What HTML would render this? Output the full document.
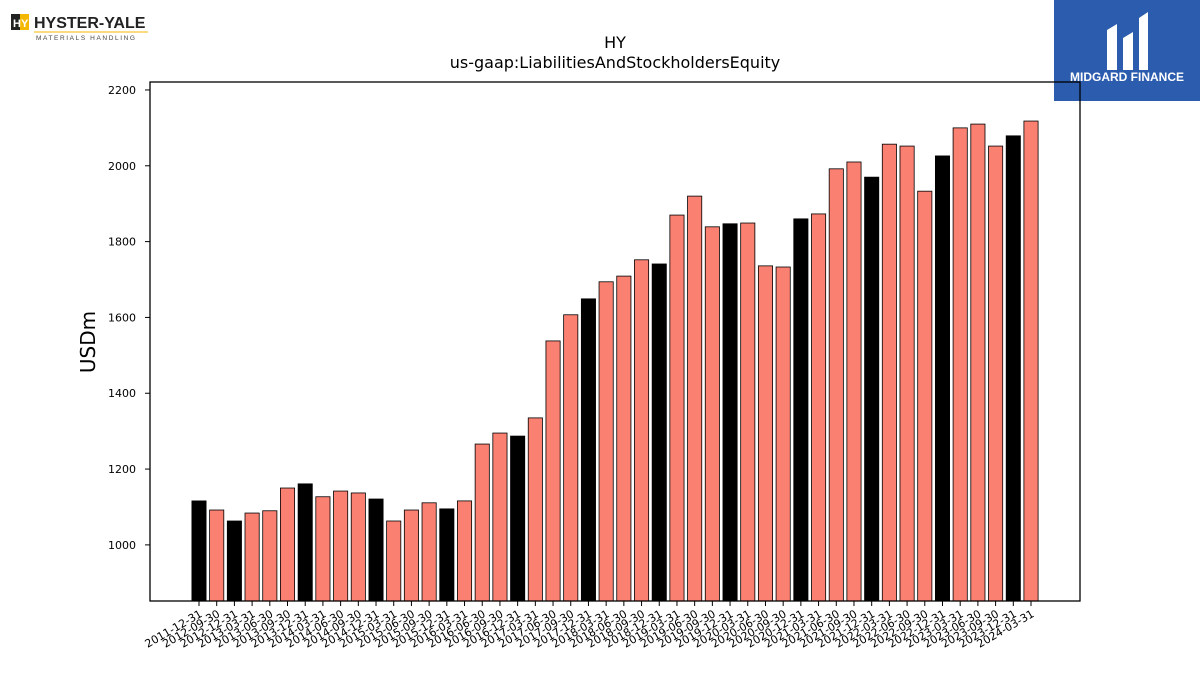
<!DOCTYPE html>
<html><head><meta charset="utf-8"><style>
body{margin:0;width:1200px;height:675px;background:#fff;overflow:hidden;font-family:"DejaVu Sans","Liberation Sans",sans-serif}
</style></head><body>
<svg width="1200" height="675" xmlns="http://www.w3.org/2000/svg">
<g font-family="Liberation Sans, sans-serif">
<rect x="11" y="14" width="9" height="16" fill="#222"/><rect x="20" y="14" width="9" height="16" fill="#f5b800"/>
<text x="13" y="27" font-size="11" font-weight="bold" fill="#fff">H</text><text x="21" y="27" font-size="11" font-weight="bold" fill="#fff">Y</text>
<text x="34" y="28" font-size="16" font-weight="bold" fill="#222">HYSTER-YALE</text>
<line x1="34" y1="32" x2="148" y2="32" stroke="#f5b800" stroke-width="1"/>
<text x="36" y="40" font-size="6.5" letter-spacing="1.6" fill="#444">MATERIALS HANDLING</text>
</g>
<g font-family="Liberation Sans, sans-serif">
<rect x="1054" y="0" width="146" height="101" fill="#2b5cad"/>
<path d="M1107 30 L1117 24 L1117 70 L1107 70 Z M1123 38 L1133 32 L1133 70 L1123 70 Z M1139 18 L1148 12 L1148 70 L1139 70 Z" fill="#fff"/>
<text x="1127" y="81" font-size="12" font-weight="bold" fill="#fff" text-anchor="middle">MIDGARD FINANCE</text>
</g>
<text x="615" y="48" font-size="16" text-anchor="middle">HY</text>
<text x="615" y="68" font-size="16" text-anchor="middle">us-gaap:LiabilitiesAndStockholdersEquity</text>
<text transform="translate(95,342) rotate(-90)" font-size="20" text-anchor="middle">USDm</text>
<g id="plot"></g>
<rect x="150" y="82" width="930" height="519" fill="none" stroke="#000" stroke-width="1.3"/>
</svg>
<script>
const categories=["2011-12-31","2012-09-30","2012-12-31","2013-03-31","2013-06-30","2013-09-30","2013-12-31","2014-03-31","2014-06-30","2014-09-30","2014-12-31","2015-03-31","2015-06-30","2015-09-30","2015-12-31","2016-03-31","2016-06-30","2016-09-30","2016-12-31","2017-03-31","2017-06-30","2017-09-30","2017-12-31","2018-03-31","2018-06-30","2018-09-30","2018-12-31","2019-03-31","2019-06-30","2019-09-30","2019-12-31","2020-03-31","2020-06-30","2020-09-30","2020-12-31","2021-03-31","2021-06-30","2021-09-30","2021-12-31","2022-03-31","2022-06-30","2022-09-30","2022-12-31","2023-03-31","2023-06-30","2023-09-30","2023-12-31","2024-03-31"];
const values=[1116,1092,1063,1084,1090,1150,1161,1127,1142,1137,1121,1063,1092,1111,1095,1116,1266,1295,1287,1335,1538,1607,1649,1694,1709,1752,1741,1870,1920,1839,1847,1849,1736,1733,1860,1873,1992,2010,1970,2057,2052,1933,2026,2100,2110,2052,2079,2118];
const yTicks=[1000,1200,1400,1600,1800,2000,2200];
const NS="http://www.w3.org/2000/svg";
const plotG=document.getElementById('plot');
const yMin=852,yMax=2221,plotTop=82,plotBot=601;
function ys(v){return plotBot-(v-yMin)/(yMax-yMin)*(plotBot-plotTop);}
function xs(i){return 199+i*(1031-199)/(categories.length-1);}
function mk(t,a){const e=document.createElementNS(NS,t);for(const k in a)e.setAttribute(k,a[k]);plotG.appendChild(e);return e;}
yTicks.forEach(v=>{
 const y=ys(v);
 const l=mk('line',{x1:145,x2:150,y1:y,y2:y,stroke:'#000'});
 
 
 const t=mk('text',{x:136,y:y+4,'font-size':11,'text-anchor':'end'});
 
 
 t.textContent=v;
});
const bw=14.2;
categories.forEach((c,i)=>{
 const x=xs(i),y=ys(values[i]);
 const r=mk('rect',{x:x-bw/2,y:y,width:bw,height:plotBot-y,fill:c.endsWith('12-31')?'#000':'#fa8072',stroke:'#000','stroke-width':0.8});
 
 
 const tk=mk('line',{x1:x,x2:x,y1:plotBot,y2:plotBot+5,stroke:'#000'});
 
 
 const t=mk('text',{x:x+4,y:plotBot+15,'font-size':11,'text-anchor':'end',transform:`rotate(-30 ${x+4} ${plotBot+15})`});
 
 
 t.textContent=c;
});
</script>
</body></html>
